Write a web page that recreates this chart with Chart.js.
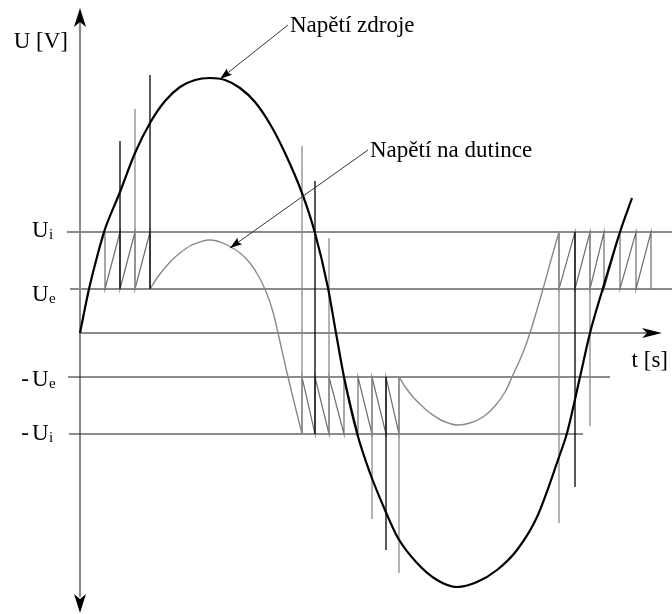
<!DOCTYPE html>
<html lang="cs">
<head>
<meta charset="utf-8">
<title>Napětí na doutnavce</title>
<script src="https://cdn.jsdelivr.net/npm/chart.js@4.4.1/dist/chart.umd.min.js"></script>
<style>
    html, body { margin: 0; padding: 0; background: #fff; }
    #wrap { width: 672px; height: 614px; }
</style>
</head>
<body>
<div id="wrap"><canvas id="chart" width="672" height="614"></canvas></div>
<script>
// --- Data (t and U in arbitrary units, origin where the axes cross) ---
const sourceT = [0, 9, 17, 24, 40, 55, 70, 85, 100, 115, 130, 145, 160, 175, 190, 205, 222, 235, 248, 256,
    264, 277, 290, 305, 318, 337, 357, 377, 397, 417, 437, 457, 479, 487, 500, 510, 523, 540, 552];
const sourceU = [0, 44, 76, 101, 141, 180, 210, 232, 246, 253, 255, 253, 245, 231, 209, 180, 140, 100, 45, 0,
    -44, -100, -140, -177, -205, -230, -247, -254, -249, -237, -217, -184, -124, -100, -44, 0, 45, 101, 135];

// tube voltage: rise with the source, then the two free arcs
const tubeRiseT = [0, 9, 17, 25];
const tubeRiseU = [0, 44, 76, 101];
const tubeArcAT = [70, 77, 84, 92, 100, 110, 120, 128, 137, 147, 160, 170, 179, 187, 193, 198, 208, 222];
const tubeArcAU = [44, 55, 64, 73, 80, 87, 91, 93, 92, 88, 80, 70, 56, 39, 21, 0, -44, -101];
const tubeArcBT = [319, 326, 333, 342, 350, 363, 377, 390, 403, 415, 425, 432, 442, 450, 463, 471, 479];
const tubeArcBU = [-44, -55, -64, -73, -80, -88, -92, -90, -84, -73, -59, -44, -22, 0, 44, 73, 101];

// ignition / extinction levels
const U_I = 101;
const U_E = 44;
const levelU = [U_I, U_E, -U_E, -U_I];
const levelSign = ['', '', '-', '-'];
const levelSub = ['i', 'e', 'e', 'i'];
const levelFrom = [-13, -10, -12, -11];
const levelTo = [592, 592, 530, 503];

// times of the discharges (sawtooth teeth)
const teethT1 = [25, 40, 55, 70];
const teethT2 = [222, 235, 249, 264, 278, 292, 306, 319];
const teethT3 = [479, 495, 510, 524, 540, 556, 571];

// current spikes at the discharges
const spikeT = [40, 55, 70, 222, 235, 249, 292, 306, 319, 479, 495, 510];
const spikeFrom = [44, 44, 44, -101, -101, -101, -44, -44, -44, 101, 101, 101];
const spikeTo = [192, 224, 258, 187, 152, 95, -186, -217, -240, -190, -154, -93];

// axes
const axisTEnd = 572;
const axisUTop = 312;
const axisUBottom = -264;
const tipT = 582;
const tipUTop = 325;
const tipUBottom = -280;

// --- Styles ---
const DARK = '#000';
const GREY = '#8a8a8a';
const spikeColors = [DARK, GREY, DARK, GREY, DARK, GREY, GREY, DARK, GREY, GREY, DARK, GREY];
const levelColors = [GREY, GREY, '#1a1a1a', '#1a1a1a'];
const levelWidths = [2, 2, 1.2, 1.2];
const levelLabelDy = [5, 12, 9, 6];
const FONT = '"Liberation Serif", "DejaVu Serif", serif';

function pts(ts, us) {
    return ts.map((t, i) => ({ x: t, y: us[i] }));
}

function zigzag(ts, hi, lo) {
    const out = [];
    ts.forEach(t => {
        out.push({ x: t, y: hi }, { x: t, y: lo });
    });
    return out;
}

function line(data, color, width, extra = {}) {
    return Object.assign({
        data: data,
        showLine: true,
        borderColor: color,
        borderWidth: width,
        pointRadius: 0,
        fill: false,
        tension: 0
    }, extra);
}

const datasets = [];
datasets.push(line(pts(sourceT, sourceU), DARK, 2.2, { cubicInterpolationMode: 'monotone' }));
spikeT.forEach((t, i) => {
    datasets.push(line([{ x: t, y: spikeFrom[i] }, { x: t, y: spikeTo[i] }], spikeColors[i], 1.3));
});
datasets.push(line(pts(tubeRiseT, tubeRiseU), GREY, 1.3, { cubicInterpolationMode: 'monotone' }));
datasets.push(line(pts(tubeArcAT, tubeArcAU), GREY, 1.4, { tension: 0.35 }));
datasets.push(line(pts(tubeArcBT, tubeArcBU), GREY, 1.4, { tension: 0.35 }));
datasets.push(line(zigzag(teethT1, U_I, U_E), '#6e6e6e', 1.2));
datasets.push(line(zigzag(teethT2, -U_I, -U_E), '#6e6e6e', 1.2));
datasets.push(line(zigzag(teethT3, U_I, U_E), '#6e6e6e', 1.2));
levelU.forEach((u, i) => {
    datasets.push(line([{ x: levelFrom[i], y: u }, { x: levelTo[i], y: u }], levelColors[i], levelWidths[i]));
});
datasets.push(line([{ x: 0, y: 0 }, { x: axisTEnd, y: 0 }], GREY, 2));
datasets.push(line([{ x: 0, y: axisUBottom }, { x: 0, y: axisUTop }], GREY, 2));

// --- Annotations: arrows, axis titles, level labels ---
const notes = [
    { text: 'Napětí zdroje', t: 210, u: 301, tipT: 140, tipU: 254 },
    { text: 'Napětí na dutince', t: 290, u: 176, tipT: 150, tipU: 85 }
];

function arrowHead(ctx, x, y, angle, len, half, notch) {
    ctx.save();
    ctx.translate(x, y);
    ctx.rotate(angle);
    ctx.beginPath();
    ctx.moveTo(0, 0);
    ctx.lineTo(-len, -half);
    ctx.lineTo(-len + notch, 0);
    ctx.lineTo(-len, half);
    ctx.closePath();
    ctx.fillStyle = '#000';
    ctx.fill();
    ctx.restore();
}

const decorations = {
    id: 'decorations',
    afterDatasetsDraw(chart) {
        const ctx = chart.ctx;
        const xs = chart.scales.x;
        const ys = chart.scales.y;
        const x0 = xs.getPixelForValue(0);
        const y0 = ys.getPixelForValue(0);

        // axis arrows
        arrowHead(ctx, x0, ys.getPixelForValue(tipUTop), -Math.PI / 2, 19, 6, 5);
        arrowHead(ctx, x0, ys.getPixelForValue(tipUBottom), Math.PI / 2, 19, 6, 5);
        arrowHead(ctx, xs.getPixelForValue(tipT), y0, 0, 20, 5, 5);

        ctx.save();
        ctx.fillStyle = '#000';
        ctx.font = '23px ' + FONT;
        ctx.textBaseline = 'alphabetic';

        // axis titles
        ctx.textAlign = 'right';
        ctx.fillText('U [V]', x0 - 12, ys.getPixelForValue(285));
        ctx.fillText('t [s]', xs.getPixelForValue(588), ys.getPixelForValue(-34));

        // level labels U_i, U_e, -U_e, -U_i
        levelU.forEach((u, i) => {
            const base = ys.getPixelForValue(u) + levelLabelDy[i];
            ctx.font = '23px ' + FONT;
            ctx.textAlign = 'left';
            ctx.fillText('U', 32, base);
            if (levelSign[i]) {
                ctx.textAlign = 'right';
                ctx.fillText(levelSign[i], 29, base);
            }
            ctx.textAlign = 'left';
            ctx.font = '15px ' + FONT;
            ctx.fillText(levelSub[i], 49, base + 2);
        });

        // curve notes with arrows
        notes.forEach(n => {
            const tx = xs.getPixelForValue(n.t);
            const ty = ys.getPixelForValue(n.u);
            const px = xs.getPixelForValue(n.tipT);
            const py = ys.getPixelForValue(n.tipU);
            ctx.font = '23px ' + FONT;
            ctx.textAlign = 'left';
            ctx.fillText(n.text, tx, ty);
            const sx = tx - 2;
            const sy = ty - 7;
            ctx.beginPath();
            ctx.moveTo(sx, sy);
            ctx.lineTo(px, py);
            ctx.strokeStyle = '#333';
            ctx.lineWidth = 1;
            ctx.stroke();
            arrowHead(ctx, px, py, Math.atan2(py - sy, px - sx), 12, 4, 2);
        });
        ctx.restore();
    }
};

new Chart(document.getElementById('chart'), {
    type: 'scatter',
    data: { datasets: datasets },
    options: {
        responsive: false,
        animation: false,
        events: [],
        layout: { padding: 0 },
        plugins: {
            legend: { display: false },
            tooltip: { enabled: false }
        },
        scales: {
            x: { type: 'linear', min: -80, max: 592, display: false },
            y: { type: 'linear', min: -281, max: 333, display: false }
        }
    },
    plugins: [decorations]
});
</script>
</body>
</html>
